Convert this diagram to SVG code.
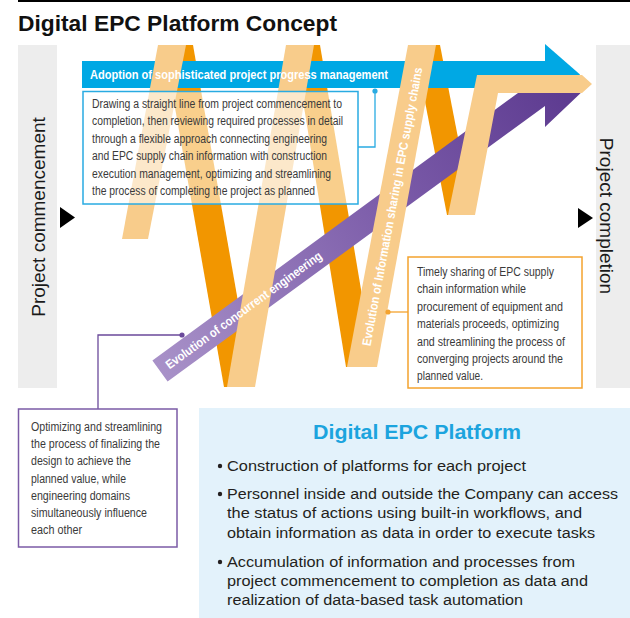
<svg xmlns="http://www.w3.org/2000/svg" width="630" height="618" viewBox="0 0 630 618">
<defs>
<linearGradient id="pg" gradientUnits="userSpaceOnUse" x1="160" y1="371" x2="560" y2="90">
<stop offset="0" stop-color="#a891c8"/>
<stop offset="0.6" stop-color="#7a5aa8"/>
<stop offset="1" stop-color="#5e3c91"/>
</linearGradient>
<style>
.t{font-family:"Liberation Sans Narrow","Liberation Sans",Arial,sans-serif;}
.box{font-family:"Liberation Sans Narrow","Liberation Sans",Arial,sans-serif;font-size:12px;fill:#3a3a3a;}
.side{font-family:"Liberation Sans",Arial,sans-serif;font-size:19px;fill:#1a1a1a;}
.bul{font-family:"Liberation Sans",Arial,sans-serif;font-size:15.5px;fill:#231f20;}
.tan{fill:#f8cc8b;}
.org{fill:#f29600;}
.lbl{font-family:"Liberation Sans Narrow","Liberation Sans",Arial,sans-serif;fill:#ffffff;font-weight:bold;}
</style>
</defs>
<rect x="18" y="0" width="612" height="2" fill="#000"/>
<g id="title">
<text x="18" y="31" font-family="Liberation Sans, Arial, sans-serif" font-weight="bold" font-size="22" fill="#111" textLength="319" lengthAdjust="spacingAndGlyphs">Digital EPC Platform Concept</text>
</g>
<g id="commencement">
<rect x="18" y="45" width="39" height="343" fill="#ededed"/>
<text class="side" transform="translate(45,217) rotate(-90)" text-anchor="middle">Project commencement</text>
<polygon points="60,207 75,217.5 60,228" fill="#000"/>
</g>
<g id="completion">
<rect x="596" y="45" width="34" height="343" fill="#ededed"/>
<text class="side" transform="translate(600,216) rotate(90)" text-anchor="middle">Project completion</text>
<polygon points="578,208 593,218 578,228" fill="#000"/>
</g>
<g id="ribbon-back">
<polygon class="org" points="164,45 193,45 253,387 224,387"/>
<polygon class="org" points="294,45 320,45 374,367 346,367"/>
<polygon class="org" points="414,45 440,45 473,215 447,215"/>
</g>
<g id="progress-arrow">
<rect x="82" y="61" width="464" height="27" fill="#00a8e4"/>
<polygon points="545,44 580,74.5 545,105" fill="#00a8e4"/>
</g>
<g id="concurrent-arrow">
<polygon points="152.4,360.5 518,93 560,85 586,88 545,127 545,106 167.6,381.5" fill="url(#pg)"/>
</g>
<g id="ribbon-front">
<polygon class="tan" points="122,239 148,239 186,45 158,45"/>
<polygon class="tan" points="227,387 255,387 314,45 286,45"/>
<polygon class="tan" points="347,367 377,367 436,45 408,45"/>
<polygon class="tan" points="448,215 477,75 582,75 592,84 582,93 498,93 475,215"/>
</g>
<g id="band-labels">
<text class="lbl" x="90" y="79" font-size="13" textLength="298" lengthAdjust="spacingAndGlyphs">Adoption of sophisticated project progress management</text>
<text class="lbl" transform="translate(243.5,310) rotate(-36.1)" y="4.5" text-anchor="middle" font-size="12.5" textLength="190" lengthAdjust="spacingAndGlyphs">Evolution of concurrent engineering</text>
<text class="lbl" transform="translate(392,206.5) rotate(-79.4)" y="4.5" text-anchor="middle" font-size="12.5" font-weight="normal" textLength="283" lengthAdjust="spacingAndGlyphs">Evolution of Information sharing in EPC supply chains</text>
</g>
<g id="connectors" fill="none" stroke-width="1.3">
<polyline points="358,147 375,147 375,91" stroke="#29abe2"/>
<circle cx="375" cy="91" r="2.6" fill="#29abe2" stroke="none"/>
<line x1="388" y1="312" x2="408" y2="312" stroke="#f4a32e"/>
<circle cx="388" cy="312" r="2.6" fill="#f4a32e" stroke="none"/>
<polyline points="98,409 98,335 182,335" stroke="#6b4a9b"/>
<circle cx="182" cy="335" r="2.6" fill="#6b4a9b" stroke="none"/>
</g>
<g id="box-progress">
<rect x="83" y="91.5" width="275" height="112.5" fill="#ffffff" fill-opacity="0.55" stroke="#29abe2" stroke-width="1.5"/>
<text class="box" x="92" y="108" textLength="250" lengthAdjust="spacingAndGlyphs">Drawing a straight line from project commencement to</text>
<text class="box" x="92" y="125.4" textLength="251" lengthAdjust="spacingAndGlyphs">completion, then reviewing required processes in detail</text>
<text class="box" x="92" y="142.8" textLength="235" lengthAdjust="spacingAndGlyphs">through a flexible approach connecting engineering</text>
<text class="box" x="92" y="160.2" textLength="235" lengthAdjust="spacingAndGlyphs">and EPC supply chain information with construction</text>
<text class="box" x="92" y="177.6" textLength="239" lengthAdjust="spacingAndGlyphs">execution management, optimizing and streamlining</text>
<text class="box" x="92" y="195" textLength="223" lengthAdjust="spacingAndGlyphs">the process of completing the project as planned</text>
</g>
<g id="box-supply">
<rect x="408" y="257" width="174" height="131" fill="#ffffff" stroke="#f4a32e" stroke-width="1.5"/>
<text class="box" x="417" y="276" textLength="137" lengthAdjust="spacingAndGlyphs">Timely sharing of EPC supply</text>
<text class="box" x="417" y="293.4" textLength="109" lengthAdjust="spacingAndGlyphs">chain information while</text>
<text class="box" x="417" y="310.8" textLength="146" lengthAdjust="spacingAndGlyphs">procurement of equipment and</text>
<text class="box" x="417" y="328.2" textLength="142" lengthAdjust="spacingAndGlyphs">materials proceeds, optimizing</text>
<text class="box" x="417" y="345.6" textLength="148" lengthAdjust="spacingAndGlyphs">and streamlining the process of</text>
<text class="box" x="417" y="363" textLength="146" lengthAdjust="spacingAndGlyphs">converging projects around the</text>
<text class="box" x="417" y="380.4" textLength="66" lengthAdjust="spacingAndGlyphs">planned value.</text>
</g>
<g id="box-concurrent">
<rect x="18.5" y="409" width="158.5" height="138" fill="#ffffff" stroke="#7b5ba6" stroke-width="1.5"/>
<text class="box" x="31" y="431" textLength="131" lengthAdjust="spacingAndGlyphs">Optimizing and streamlining</text>
<text class="box" x="31" y="448.2" textLength="129" lengthAdjust="spacingAndGlyphs">the process of finalizing the</text>
<text class="box" x="31" y="465.4" textLength="100" lengthAdjust="spacingAndGlyphs">design to achieve the</text>
<text class="box" x="31" y="482.6" textLength="95" lengthAdjust="spacingAndGlyphs">planned value, while</text>
<text class="box" x="31" y="499.8" textLength="99" lengthAdjust="spacingAndGlyphs">engineering domains</text>
<text class="box" x="31" y="517" textLength="116" lengthAdjust="spacingAndGlyphs">simultaneously influence</text>
<text class="box" x="31" y="534.2" textLength="51" lengthAdjust="spacingAndGlyphs">each other</text>
</g>
<g id="platform">
<rect x="199" y="408" width="431" height="210" fill="#e3f2fb"/>
<text x="417" y="439" text-anchor="middle" font-family="Liberation Sans, Arial, sans-serif" font-weight="bold" font-size="20" fill="#1ca4de" textLength="208" lengthAdjust="spacingAndGlyphs">Digital EPC Platform</text>
<g fill="#231f20">
<circle cx="220" cy="466" r="2.2"/>
<circle cx="220" cy="494" r="2.2"/>
<circle cx="220" cy="562" r="2.2"/>
</g>
<text class="bul" x="227" y="471" textLength="299" lengthAdjust="spacingAndGlyphs">Construction of platforms for each project</text>
<text class="bul" x="227" y="499" textLength="391" lengthAdjust="spacingAndGlyphs">Personnel inside and outside the Company can access</text>
<text class="bul" x="227" y="518.3" textLength="355" lengthAdjust="spacingAndGlyphs">the status of actions using built-in workflows, and</text>
<text class="bul" x="227" y="537.7" textLength="368" lengthAdjust="spacingAndGlyphs">obtain information as data in order to execute tasks</text>
<text class="bul" x="227" y="566.7" textLength="348" lengthAdjust="spacingAndGlyphs">Accumulation of information and processes from</text>
<text class="bul" x="227" y="586" textLength="361" lengthAdjust="spacingAndGlyphs">project commencement to completion as data and</text>
<text class="bul" x="227" y="605" textLength="296" lengthAdjust="spacingAndGlyphs">realization of data-based task automation</text>
</g>
</svg>
